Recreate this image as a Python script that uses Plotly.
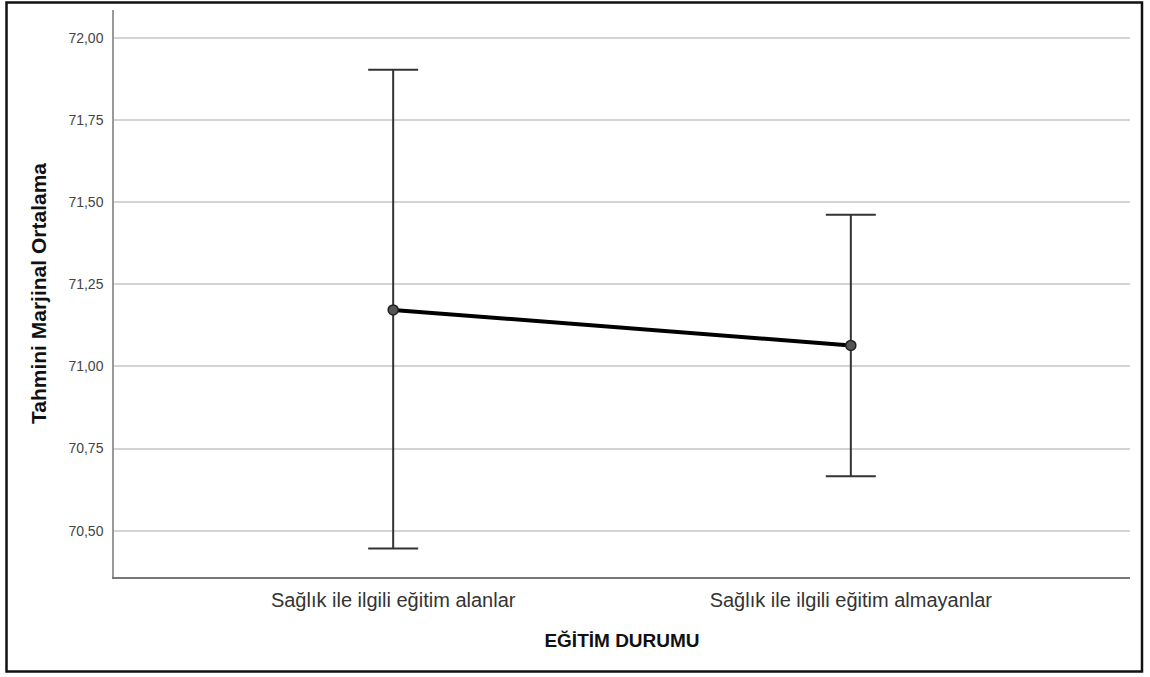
import plotly.graph_objects as go

categories = ["Sağlık ile ilgili eğitim alanlar", "Sağlık ile ilgili eğitim almayanlar"]
means = [71.172, 71.064]
upper = [71.903, 71.462]
lower = [70.446, 70.666]
y_ticks = [70.50, 70.75, 71.00, 71.25, 71.50, 71.75, 72.00]
y_tick_labels = ["70,50", "70,75", "71,00", "71,25", "71,50", "71,75", "72,00"]

x_pos = list(range(len(categories)))
err_plus = [u - m for u, m in zip(upper, means)]
err_minus = [m - l for m, l in zip(means, lower)]

fig = go.Figure()
fig.add_trace(go.Scatter(
    x=x_pos, y=means, mode="lines+markers",
    line=dict(color="black", width=4),
    marker=dict(size=10, color="#555555", line=dict(color="#222222", width=1.5)),
    error_y=dict(type="data", symmetric=False, array=err_plus, arrayminus=err_minus,
                 color="#333333", thickness=2, width=25),
    showlegend=False,
))

L, R, T, B = 114, 20, 10, 100
W, H = 1150, 677
pw, ph = W - L - R, H - T - B

def px_to_paper_x(px):
    return (px - L) / pw

def px_to_paper_y(py):
    return (H - B - py) / ph

fig.update_layout(
    width=W, height=H,
    margin=dict(l=L, r=R, t=T, b=B),
    paper_bgcolor="white", plot_bgcolor="white",
    font=dict(family="Liberation Sans, Arial, sans-serif", color="#333333"),
    xaxis=dict(
        range=[-0.61, 1.61], tickmode="array", tickvals=x_pos, ticktext=categories,
        tickfont=dict(size=20, color="#333333"), showgrid=False, zeroline=False,
        showline=True, linecolor="#777777", linewidth=1.5, ticks="",
        ticklabelstandoff=4,
        title=dict(text="<b>EĞİTİM DURUMU</b>", font=dict(size=19, color="#111111"), standoff=24),
    ),
    yaxis=dict(
        range=[70.359, 72.085], tickmode="array", tickvals=y_ticks, ticktext=y_tick_labels,
        tickfont=dict(size=14, color="#444444"), showgrid=True, gridcolor="#d3d3d3", gridwidth=1.5,
        zeroline=False, showline=True, linecolor="#999999", linewidth=1.5, ticks="",
        ticklabelstandoff=6,
        title=dict(text="<b>Tahmini Marjinal Ortalama</b>", font=dict(size=21, color="#111111"), standoff=16),
    ),
    shapes=[dict(
        type="rect", xref="paper", yref="paper",
        x0=px_to_paper_x(6.5), x1=px_to_paper_x(1142),
        y0=px_to_paper_y(671.5), y1=px_to_paper_y(2.5),
        line=dict(color="#111111", width=2.5), fillcolor="rgba(0,0,0,0)", layer="above",
    )],
)

fig.write_html("out.html", config={"displayModeBar": False},
               post_script="document.body.style.margin='0';document.body.style.overflow='hidden';")
